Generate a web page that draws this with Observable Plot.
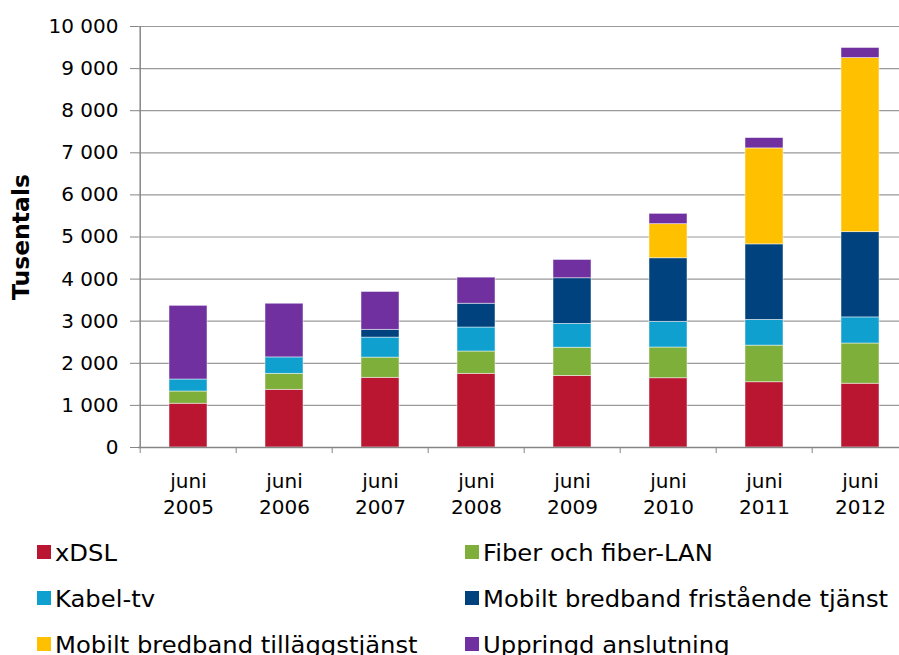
<!DOCTYPE html>
<html>
<head>
<meta charset="utf-8">
<script src="https://cdn.jsdelivr.net/npm/d3@7"></script>
<script src="https://cdn.jsdelivr.net/npm/@observablehq/plot@0.6"></script>
<style>
  html, body { margin: 0; padding: 0; background: #fff; overflow: hidden; }
  body { font-family: "DejaVu Sans", Verdana, sans-serif; width: 899px; height: 655px; }
  #chart svg { display: block; }
  #chart g[aria-label="y-axis label"] text { font-weight: bold; font-size: 23.5px; }
  #legend { display: grid; grid-template-columns: 428px 434px; padding-left: 37px; }
  #legend .item { height: 46px; line-height: 46px; font-size: 23px; color: #000; white-space: nowrap; }
  #legend .sw { display: inline-block; width: 14px; height: 14px; margin-right: 4px; margin-bottom: 2px; vertical-align: baseline; }
  #legend .txt { display: inline-block; transform: scaleX(1.055); transform-origin: 0 50%; }
</style>
</head>
<body>
<div id="chart"></div>
<div id="legend"></div>
<script>
// ---- data (thousands of subscriptions) ----
const years = ["2005", "2006", "2007", "2008", "2009", "2010", "2011", "2012"];
const seriesNames = [
  "xDSL",
  "Fiber och fiber-LAN",
  "Kabel-tv",
  "Mobilt bredband fristående tjänst",
  "Mobilt bredband tilläggstjänst",
  "Uppringd anslutning"
];
const colors = ["#BA1631", "#7EAF3A", "#0FA0CF", "#00427D", "#FFC000", "#7030A0"];
const xDSL      = [1040, 1370, 1655, 1750, 1700, 1645, 1550, 1515];
const fiber     = [ 290,  380,  480,  530,  670,  730,  870,  955];
const kabelTv   = [ 285,  390,  475,  570,  565,  610,  610,  620];
const mobilFri  = [   0,    0,  185,  565, 1085, 1510, 1795, 2025];
const mobilTill = [   0,    0,    0,    0,    0,  810, 2280, 4135];
const uppringd  = [1750, 1275,  900,  620,  435,  245,  245,  240];
const yTicks = [0, 1000, 2000, 3000, 4000, 5000, 6000, 7000, 8000, 9000, 10000];
const xPrefix = "juni";
const yLabel = "Tusentals";

const seriesValues = [xDSL, fiber, kabelTv, mobilFri, mobilTill, uppringd];
const rows = [];
seriesValues.forEach((arr, i) => arr.forEach((v, j) => {
  if (v > 0) rows.push({year: years[j], series: seriesNames[i], value: v});
}));

// ---- layout ----
const W = 899, H = 530;
const plotLeft = 138, plotRight = 911, plotTop = 26, plotBottom = 447;
const step = (plotRight - plotLeft) / years.length;
const axisGray = "#868686";

const fmt = d3.formatLocale({decimal: ",", thousands: " ", grouping: [3], currency: ["", ""]}).format(",");

const chart = Plot.plot({
  width: W,
  height: H,
  marginLeft: plotLeft,
  marginRight: W - plotRight,
  marginTop: plotTop,
  marginBottom: H - plotBottom,
  style: {fontFamily: "DejaVu Sans, Verdana, sans-serif", fontSize: "20px", color: "#000", background: "#fff"},
  x: {domain: years, range: [plotLeft, plotRight], paddingInner: 0.6, paddingOuter: 0.3},
  y: {domain: [0, 10000], range: [plotBottom, plotTop]},
  color: {domain: seriesNames, range: colors},
  marks: [
    Plot.ruleY(yTicks, {stroke: "#999", strokeWidth: 1.2}),
    Plot.barY(rows, {x: "year", y: "value", fill: "series", order: seriesNames,
      stroke: "#fff", strokeWidth: 0.8, strokeOpacity: 0.6}),
    Plot.ruleY([0], {stroke: axisGray, strokeWidth: 1.5}),
    Plot.ruleX([years[0]], {dx: -step / 2, stroke: axisGray, strokeWidth: 1.5}),
    Plot.axisY({ticks: yTicks, tickSize: 8, tickPadding: 12, tickFormat: fmt, stroke: axisGray,
      fill: "#000", label: yLabel, labelAnchor: "center", labelArrow: "none", labelOffset: 126}),
    Plot.axisX({tickSize: 0, tickPadding: 22, tickFormat: d => xPrefix + "\n" + d, lineHeight: 1.3,
      fill: "#000", label: null}),
    Plot.axisX({tickSize: 6, tickFormat: () => "", dx: -step / 2, stroke: axisGray, label: null})
  ]
});
document.getElementById("chart").appendChild(chart);

// ---- legend (two columns, row-wise) ----
const legend = document.getElementById("legend");
seriesNames.forEach((name, i) => {
  const item = document.createElement("div");
  item.className = "item";
  const sw = document.createElement("span");
  sw.className = "sw";
  sw.style.background = colors[i];
  const txt = document.createElement("span");
  txt.className = "txt";
  txt.textContent = name;
  item.appendChild(sw);
  item.appendChild(txt);
  legend.appendChild(item);
});
</script>
</body>
</html>
